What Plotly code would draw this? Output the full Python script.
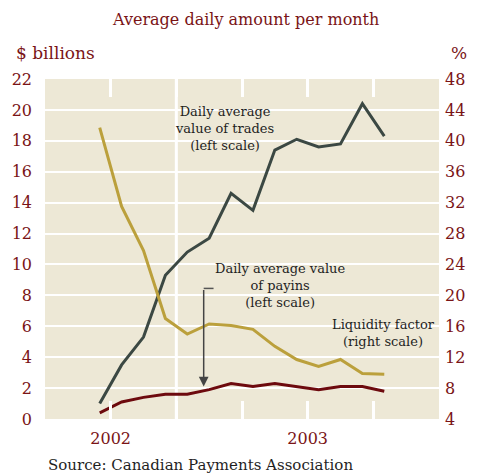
import plotly.graph_objects as go

# months: Sep 2002 .. Oct 2003 (x = month index, Jul 2002 starts at 0)
months = [2.5, 3.5, 4.5, 5.5, 6.5, 7.5, 8.5, 9.5, 10.5, 11.5, 12.5, 13.5, 14.5, 15.5]
trades = [1.0, 3.5, 5.3, 9.3, 10.8, 11.7, 14.6, 13.5, 17.4, 18.1, 17.6, 17.8, 20.4, 18.3]
payins = [0.4, 1.1, 1.4, 1.6, 1.6, 1.9, 2.3, 2.1, 2.3, 2.1, 1.9, 2.1, 2.1, 1.8]
liquidity = [41.7, 31.5, 25.8, 17.0, 15.0, 16.3, 16.1, 15.6, 13.4, 11.7, 10.8, 11.7, 9.9, 9.8]

left_ticks = list(range(0, 24, 2))
right_ticks = list(range(4, 52, 4))
year_pos = [3, 6, 9, 12, 15]
year_text = ["2002", "", "", "2003", ""]

RED = "#7a1416"
DARK = "#1f1f1f"
BG = "#ede8d6"
FONT = "DejaVu Serif"

fig = go.Figure()
fig.add_trace(go.Scatter(x=months, y=liquidity, yaxis="y2", mode="lines",
                         line=dict(color="#bba03c", width=3)))
fig.add_trace(go.Scatter(x=months, y=trades, mode="lines",
                         line=dict(color="#3b4843", width=3)))
fig.add_trace(go.Scatter(x=months, y=payins, mode="lines",
                         line=dict(color="#6d0a0e", width=3)))

fig.update_layout(
    width=477, height=475,
    margin=dict(l=44, r=33, t=79, b=56),
    paper_bgcolor="white", plot_bgcolor=BG,
    showlegend=False,
    font=dict(family=FONT, color=RED, size=16),
    xaxis=dict(range=[0, 18], tickvals=year_pos, ticktext=year_text,
               ticks="inside", ticklen=18, tickwidth=3, tickcolor="white",
               mirror="ticks", showgrid=False, zeroline=False, showline=False,
               ticklabelstandoff=8, tickfont=dict(size=16, color=RED)),
    yaxis=dict(range=[0, 22], tickvals=left_ticks, showgrid=True,
               gridcolor="white", gridwidth=2, zeroline=False, ticks="",
               ticklabelstandoff=12, tickfont=dict(size=16, color=RED)),
    yaxis2=dict(range=[4, 48], tickvals=right_ticks, overlaying="y", side="right",
                showgrid=False, zeroline=False, ticks="", ticklabelstandoff=5,
                tickfont=dict(size=16, color=RED)),
)

# year boundary line
fig.add_shape(type="line", x0=6, x1=6, y0=0, y1=1, yref="paper",
              line=dict(color="white", width=3), layer="below")

# elbow of the payins pointer
fig.add_shape(type="line", x0=7.25, x1=7.7, y0=8.45, y1=8.45,
              line=dict(color="#555555", width=1.5))
fig.add_annotation(x=7.25, y=2.1, ax=7.25, ay=8.45, axref="x", ayref="y",
                   text="", showarrow=True, arrowhead=2, arrowsize=1.3,
                   arrowwidth=1.5, arrowcolor="#444444")


def plabel(text, x, y, color=DARK, size=13, xanchor="center"):
    # position given in pixels of the whole picture
    fig.add_annotation(text=text, x=(x - 44) / 400, y=(419 - y) / 340,
                       xref="paper", yref="paper", xanchor=xanchor, yanchor="middle",
                       showarrow=False, align="center",
                       font=dict(size=size, color=color, family=FONT))


plabel("Average daily amount per month", 248, 20, color=RED, size=16)
plabel("$ billions", 13, 53, color=RED, size=17, xanchor="left")
plabel("%", 474, 53, color=RED, size=17, xanchor="right")
plabel("Daily average<br>value of trades<br>(left scale)", 226, 128)
plabel("Daily average value<br>of payins<br>(left scale)", 283, 285)
plabel("Liquidity factor<br>(right scale)", 388, 333)
plabel("Source: Canadian Payments Association", 45, 465, size=15, xanchor="left")

fig.write_html("out.html", config={"displayModeBar": False},
               post_script="document.body.style.margin='0';")
